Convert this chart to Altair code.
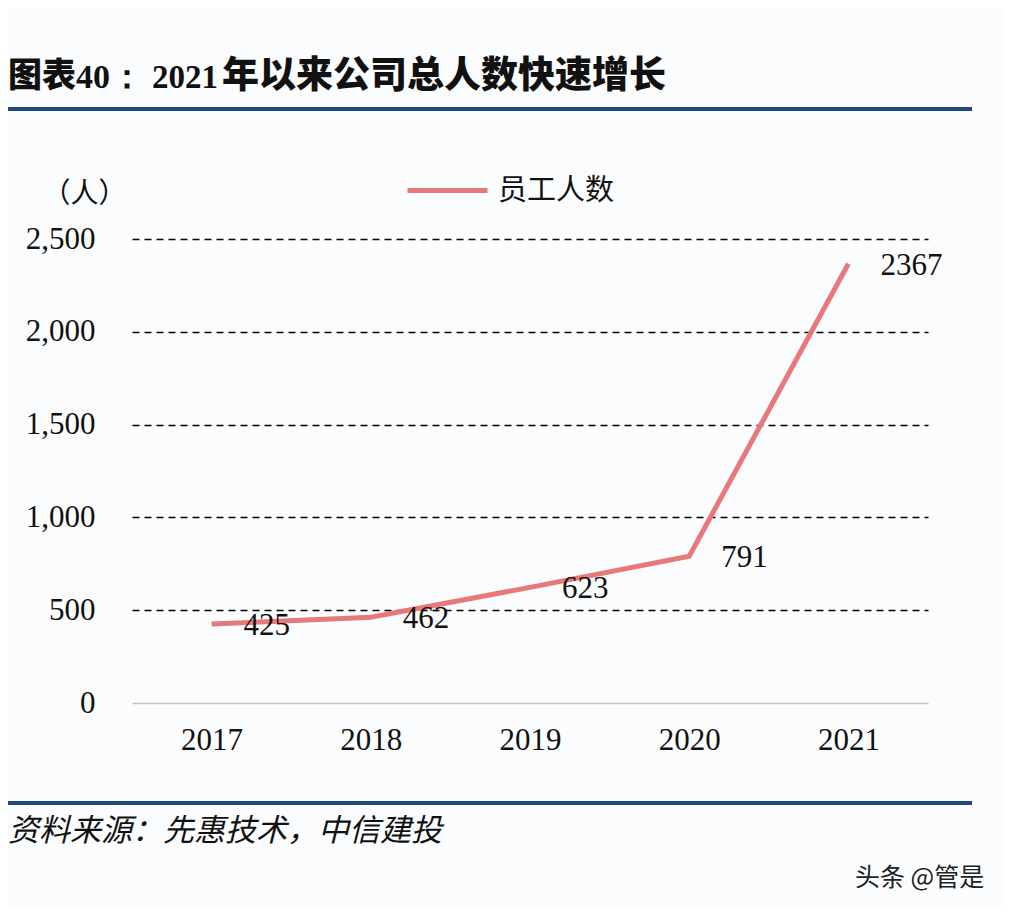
import altair as alt
import pandas as pd

# ---- data ----
years = ["2017", "2018", "2019", "2020", "2021"]
staff = [425, 462, 623, 791, 2367]
series_name = "员工人数"
y_ticks = [0, 500, 1000, 1500, 2000, 2500]

title_prefix_cn = "图表"
title_prefix_num = "40："
title_year = "2021"
title_main = "年以来公司总人数快速增长"
unit_label = "（人）"
source_text = "资料来源：先惠技术，中信建投"
watermark = "头条 @管是"

df = pd.DataFrame({"year": years, "staff": staff, "series": [series_name] * len(years)})

W, H = 796, 464
LINE_COLOR = "#E8797A"
BLUE = "#1f4a7c"
SERIF = "Liberation Serif"
CJK = "Noto Sans CJK SC"
NUM_SIZE = 31

x_enc = alt.X(
    "year:N",
    sort=years,
    axis=alt.Axis(
        title=None, labelAngle=0, labelFont=SERIF, labelFontSize=NUM_SIZE,
        labelColor="#111111", labelPadding=22, ticks=False,
        domain=True, domainColor="#c0c0c0", domainWidth=1.5, grid=False,
    ),
)
y_enc = alt.Y(
    "staff:Q",
    scale=alt.Scale(domain=[0, 2500], nice=False),
    axis=alt.Axis(
        values=y_ticks, labelExpr="format(datum.value, ',.0f')",
        labelFont=SERIF, labelFontSize=NUM_SIZE,
        labelColor="#111111", labelPadding=37, ticks=False, domain=False,
        grid=True, gridDash=[7, 5], gridColor="#000000", gridWidth=1.3,
        gridOpacity={"condition": {"test": "datum.value === 0", "value": 0}, "value": 1},
        title=unit_label, titleAngle=0, titleX=-90, titleY=-45,
        titleAlign="left", titleBaseline="middle", titleFont=CJK,
        titleFontSize=28, titleFontWeight="normal", titleColor="#111111",
    ),
)

base = alt.Chart(df)

line = base.mark_line(strokeWidth=5).encode(
    x=x_enc,
    y=y_enc,
    color=alt.Color(
        "series:N",
        scale=alt.Scale(range=[LINE_COLOR]),
        legend=alt.Legend(
            title=None, orient="none", legendX=273, legendY=-91,
            symbolType="stroke", symbolStrokeWidth=5, symbolSize=6400,
            labelFont=CJK, labelFontSize=29, labelColor="#111111",
            labelOffset=8, padding=0,
        ),
    ),
)

labels = base.mark_text(
    align="left", baseline="middle", dx=32, dy=2,
    font=SERIF, fontSize=NUM_SIZE, color="#111111",
).encode(x=alt.X("year:N", sort=years), y="staff:Q", text="staff:Q")

one = alt.Data(values=[{"k": 1}])


def deco_text(txt, x, y, font, size, weight="normal", style="normal", color="#111111"):
    return alt.Chart(one).mark_text(
        text=txt, align="left", baseline="middle", font=font, fontSize=size,
        fontWeight=weight, fontStyle=style, color=color,
    ).encode(x=alt.value(x), y=alt.value(y))


def deco_rule(x1, x2, y, width, color):
    return alt.Chart(one).mark_rule(color=color, strokeWidth=width).encode(
        x=alt.value(x1), x2=alt.value(x2), y=alt.value(y)
    )


OX, OY = 132, 239  # plot origin on page

t1 = deco_text(title_prefix_cn, 8 - OX, 77 - OY, CJK, 34, weight=900)
t2 = deco_text(title_prefix_num, 76 - OX, 78 - OY, SERIF, 34, weight="bold")
t3 = deco_text(title_year, 152 - OX, 78 - OY, SERIF, 33, weight="bold")
t4 = deco_text(title_main, 222 - OX, 77 - OY, CJK, 37, weight=900)
top_rule = deco_rule(8 - OX, 972 - OX, 109 - OY, 4, BLUE)
bottom_rule = deco_rule(8 - OX, 972 - OX, 803 - OY, 4, BLUE)
src = deco_text(source_text, 8 - OX, 832 - OY, CJK, 31, style="italic")
wm = deco_text(watermark, 855 - OX, 878 - OY, CJK, 25, color="#222222")

chart = alt.layer(
    line, labels, t1, t2, t3, t4, top_rule, bottom_rule, src, wm
).properties(
    width=W, height=H,
    autosize=alt.AutoSizeParams(type="none"),
    padding={"left": OX - 8, "top": OY - 8, "right": 996 - (OX - 8) - W, "bottom": 898 - (OY - 8) - H},
    background="#fbfcfe",
).configure_view(stroke=None)

chart.save("out.html", embed_options={"renderer": "svg", "actions": False})
